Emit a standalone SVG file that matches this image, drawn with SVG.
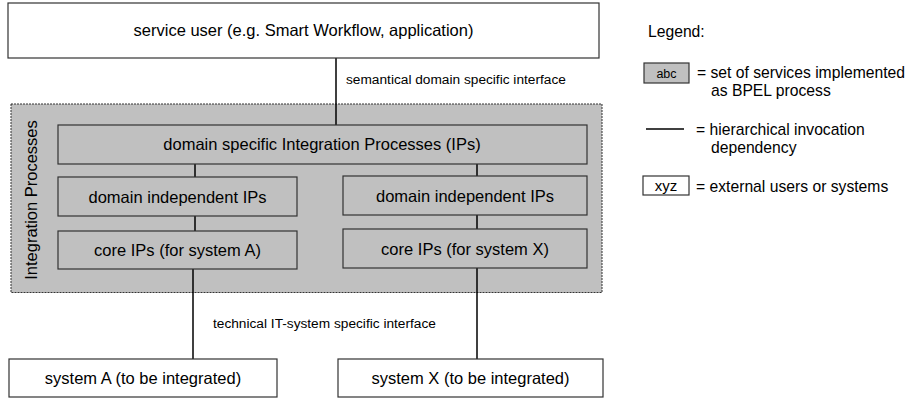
<svg xmlns="http://www.w3.org/2000/svg" width="917" height="399" viewBox="0 0 917 399">
<style>
text{font-family:"Liberation Sans",Arial,sans-serif;fill:#000}
.lbl{font-size:16.5px;text-anchor:middle}
.small{font-size:13.7px}
.leg{font-size:15.7px}
.ext{fill:#fff;stroke:#333;stroke-width:1.2}
.ip{fill:#c0c0c0;stroke:#333;stroke-width:1.2}
.con{stroke:#000;stroke-width:1.5;fill:none}
</style>
<rect width="917" height="399" fill="#fff"/>
<g id="integration-processes">
<rect x="11" y="104" width="591" height="188.5" fill="#c0c0c0" stroke="#333" stroke-width="1" stroke-dasharray="2,1"/>
<text class="lbl" transform="translate(36.5,200) rotate(-90)">Integration Processes</text>
</g>
<g id="connectors">
<line class="con" x1="336" y1="58" x2="336" y2="125"/>
<line class="con" x1="195" y1="164" x2="195" y2="177"/>
<line class="con" x1="195" y1="216" x2="195" y2="231"/>
<line class="con" x1="193" y1="269" x2="193" y2="359"/>
<line class="con" x1="477" y1="164" x2="477" y2="176"/>
<line class="con" x1="477" y1="215" x2="477" y2="229"/>
<line class="con" x1="477" y1="268" x2="477" y2="359"/>
</g>
<g id="service-user">
<rect class="ext" x="8" y="3" width="591" height="55"/>
<text class="lbl" x="303.5" y="36">service user (e.g. Smart Workflow, application)</text>
</g>
<text class="small" x="346" y="84">semantical domain specific interface</text>
<g id="domain-specific">
<rect class="ip" x="58" y="125" width="529" height="39"/>
<text class="lbl" x="322" y="150">domain specific Integration Processes (IPs)</text>
</g>
<g id="domain-independent-a">
<rect class="ip" x="58" y="177" width="239" height="39"/>
<text class="lbl" x="177.5" y="202.5">domain independent IPs</text>
</g>
<g id="domain-independent-x">
<rect class="ip" x="343" y="176" width="244" height="39"/>
<text class="lbl" x="465" y="201.5">domain independent IPs</text>
</g>
<g id="core-a">
<rect class="ip" x="58" y="231" width="239" height="38"/>
<text class="lbl" x="177.5" y="255.5">core IPs (for system A)</text>
</g>
<g id="core-x">
<rect class="ip" x="343" y="229" width="244" height="39"/>
<text class="lbl" x="465" y="254.5">core IPs (for system X)</text>
</g>
<text class="small" x="213" y="328">technical IT-system specific interface</text>
<g id="system-a">
<rect class="ext" x="9" y="359" width="268" height="38"/>
<text class="lbl" x="143" y="384">system A (to be integrated)</text>
</g>
<g id="system-x">
<rect class="ext" x="338" y="359" width="265" height="38"/>
<text class="lbl" x="470.5" y="384">system X (to be integrated)</text>
</g>
<g id="legend">
<text class="leg" x="648" y="37">Legend:</text>
<rect class="ip" x="644" y="63" width="45" height="20"/>
<text x="666.5" y="78" font-size="12.5" text-anchor="middle">abc</text>
<text class="leg" x="697" y="78">= set of services implemented</text>
<text class="leg" x="711" y="96">as BPEL process</text>
<line class="con" x1="646" y1="129" x2="684" y2="129"/>
<text class="leg" x="696" y="135">= hierarchical invocation</text>
<text class="leg" x="711" y="153">dependency</text>
<rect class="ext" x="643" y="176" width="46" height="19"/>
<text x="666" y="191" font-size="15" text-anchor="middle">xyz</text>
<text class="leg" x="696" y="192">= external users or systems</text>
</g>
</svg>
